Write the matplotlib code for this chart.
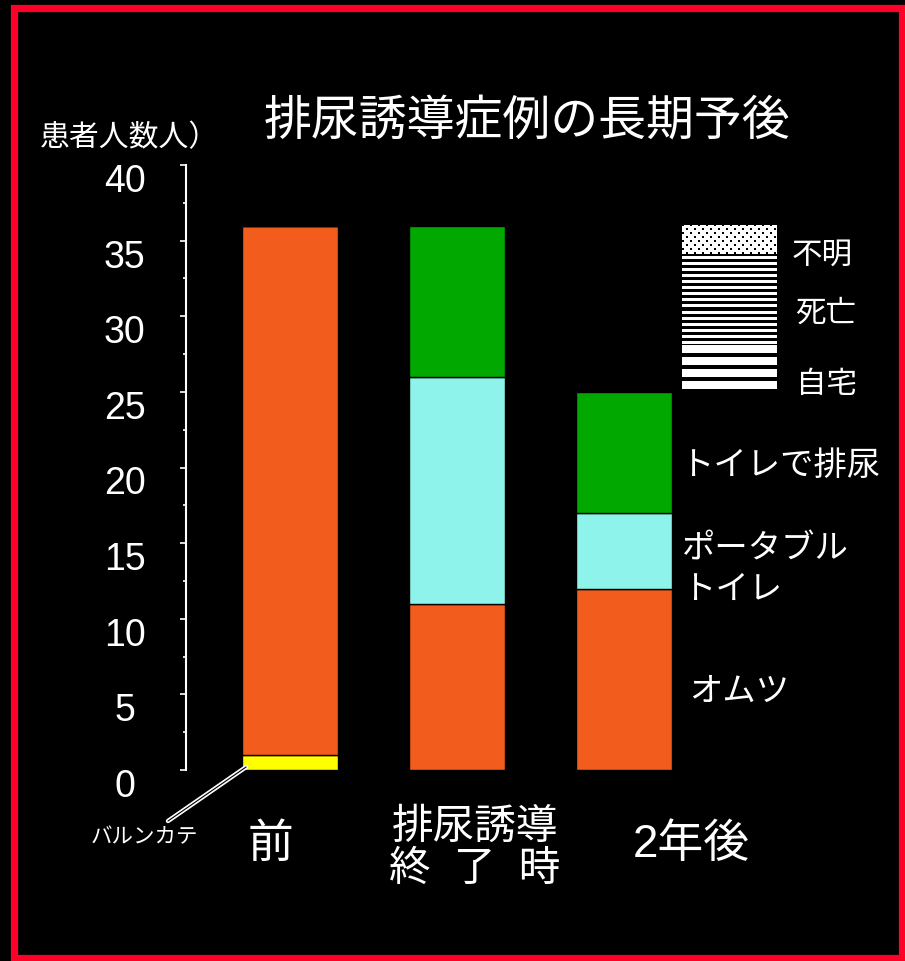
import matplotlib.pyplot as plt
import matplotlib.patheffects as pe
from matplotlib.patches import Rectangle
from matplotlib.transforms import ScaledTranslation
import numpy as np

plt.rcParams['font.family'] = ['Liberation Sans', 'Noto Sans CJK JP']

# data
groups = ['前', '排尿誘導\n終  了  時', '2年後']
balloon = [1, 0, 0]      # バルンカテ
diaper = [35, 11, 12]    # オムツ
portable = [0, 15, 5]    # ポータブルトイレ
toilet = [0, 10, 8]      # トイレで排尿
yticks = [0, 5, 10, 15, 20, 25, 30, 35, 40]

c_yellow = '#ffff00'
c_orange = '#f25c1c'
c_cyan = '#8ef3ea'
c_green = '#00a800'

W, H = 905, 962
fig = plt.figure(figsize=(W / 100, H / 100), dpi=100, facecolor='black')

def fx(px):
    return px / W

def fy(py):
    return 1 - py / H

ax = fig.add_axes([fx(186), fy(771), fx(791 - 186), (771 - 166) / H])
ax.set_facecolor('black')

x = np.arange(len(groups))
w = 0.575
b1 = np.array(balloon)
b2 = b1 + np.array(diaper)
b3 = b2 + np.array(portable)
ax.bar(x, balloon, w, color=c_yellow, edgecolor='black', lw=1)
ax.bar(x, diaper, w, bottom=b1, color=c_orange, edgecolor='black', lw=1)
ax.bar(x, portable, w, bottom=b2, color=c_cyan, edgecolor='black', lw=1)
ax.bar(x, toilet, w, bottom=b3, color=c_green, edgecolor='black', lw=1)

ax.set_xlim(-0.623, 3.0)
ax.set_ylim(0, 40)
for s in ['top', 'right', 'bottom']:
    ax.spines[s].set_visible(False)
ax.spines['left'].set_color('white')
ax.spines['left'].set_linewidth(1.5)

ax.set_yticks(yticks)
ax.set_yticks(np.arange(2.5, 40, 5), minor=True)
ax.tick_params(axis='y', which='major', colors='white', length=4, width=1.2,
               labelsize=27, pad=40)
ax.tick_params(axis='y', which='minor', colors='white', length=2.5, width=1.2)
off = ScaledTranslation(0, -0.12, fig.dpi_scale_trans)
for lab in ax.get_yticklabels():
    lab.set_horizontalalignment('center')
    lab.set_transform(lab.get_transform() + off)

ax.set_xticks(x)
ax.set_xticklabels(groups)
ax.tick_params(axis='x', length=0, colors='white', labelsize=30, pad=53)
shifts = [(-0.20, 0.0), (0.18, -0.04), (0.67, 0.0)]
for lab, (dx, dy) in zip(ax.get_xticklabels(), shifts):
    lab.set_verticalalignment('center')
    lab.set_linespacing(1.05)
    lab.set_transform(lab.get_transform() + ScaledTranslation(dx, dy, fig.dpi_scale_trans))
for i in (0, 2):
    ax.get_xticklabels()[i].set_fontsize(33)

# category labels beside the last bar
ax.text(2.335, 20.1, 'トイレで排尿', color='white', fontsize=24, va='center', ha='left')
ax.text(2.347, 13.3, 'ポータブル\nトイレ', color='white', fontsize=24, va='center',
        ha='left', linespacing=1.4)
ax.text(2.39, 5.2, 'オムツ', color='white', fontsize=24, va='center', ha='left')

# balloon catheter callout
ax.annotate('', xy=(-0.263, 0.2), xycoords='data',
            xytext=(168, H - 822), textcoords='figure pixels',
            arrowprops=dict(arrowstyle='-', color='black', lw=0.8,
                            shrinkA=0, shrinkB=0,
                            path_effects=[pe.Stroke(linewidth=3.2, foreground='white'),
                                          pe.Normal()]))
fig.text(fx(144), fy(838), 'バルンカテ', color='white', fontsize=15.5, ha='center', va='center')

# titles
fig.text(fx(527), fy(122), '排尿誘導症例の長期予後', color='white', fontsize=34.5,
         ha='center', va='center')
fig.text(fx(40), fy(138), '患者人数人）', color='white', fontsize=21.5,
         ha='left', va='center')

# pattern key box (不明 / 死亡 / 自宅)
rows, cols = 166, 95
pat = np.zeros((rows, cols))
r = np.arange(rows)[:, None]
c = np.arange(cols)[None, :]
dots = ~(((r % 4) < 2) & ((c % 4) < 2) & (((r // 4 + c // 4) % 2) == 0))
pat[:30] = dots[:30]
pat[32:120] = ((r[32:120] - 32) % 6 < 3) * np.ones((1, cols))
pat[120:] = ((r[120:] - 120) % 12 < 8) * np.ones((1, cols))
kax = fig.add_axes([fx(682), fy(392), fx(cols), rows / H])
kax.imshow(pat, cmap='gray', vmin=0, vmax=1, interpolation='nearest', aspect='auto')
kax.axis('off')
fig.text(fx(822), fy(256), '不明', color='white', fontsize=22, ha='center', va='center')
fig.text(fx(826), fy(314), '死亡', color='white', fontsize=22, ha='center', va='center')
fig.text(fx(826), fy(385), '自宅', color='white', fontsize=22, ha='center', va='center')

# red frame
fig.patches.append(Rectangle((fx(14), fy(959)), fx(902 - 14), (959 - 8.5) / H,
                             transform=fig.transFigure, fill=False,
                             edgecolor='#ff0028', lw=5.2))

fig.savefig('out.png', dpi=100, facecolor='black')
